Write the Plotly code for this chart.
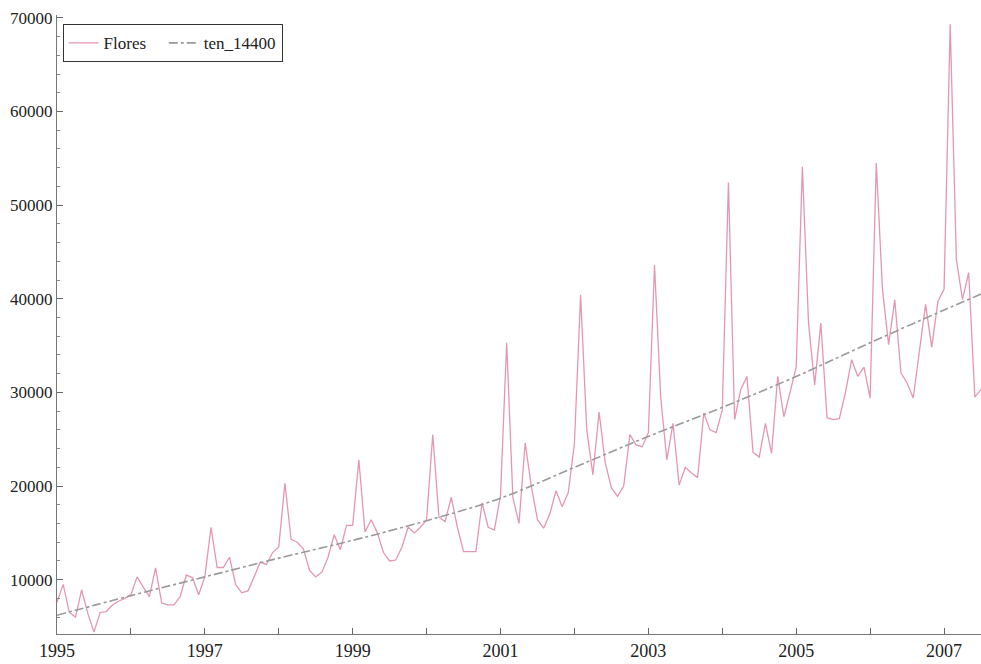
import plotly.graph_objects as go

# Monthly series "Flores", Jan 1995 .. Jul 2007
flores_1995 = [7600, 9500, 6500, 6000, 8900, 6400, 4400, 6500, 6600, 7300, 7700, 8000]
flores_1996 = [8400, 10300, 9200, 8200, 11250, 7500, 7300, 7300, 8200, 10500, 10200, 8400]
flores_1997 = [10300, 15600, 11300, 11300, 12400, 9500, 8600, 8800, 10300, 11900, 11600, 12900]
flores_1998 = [13500, 20300, 14300, 14000, 13300, 11000, 10300, 10800, 12400, 14800, 13200, 15800]
flores_1999 = [15800, 22800, 15100, 16400, 15000, 12900, 12000, 12100, 13500, 15600, 15000, 15600]
flores_2000 = [16400, 25500, 16700, 16200, 18800, 15600, 13000, 13000, 13000, 18200, 15600, 15300]
flores_2001 = [19000, 35300, 18800, 16000, 24600, 20000, 16400, 15500, 17000, 19500, 17800, 19300]
flores_2002 = [24600, 40400, 26000, 21200, 27900, 22500, 19800, 18900, 20000, 25500, 24400, 24200]
flores_2003 = [25700, 43600, 29500, 22800, 26700, 20100, 22000, 21400, 20900, 27800, 26000, 25700]
flores_2004 = [28100, 52400, 27100, 30300, 31700, 23600, 23100, 26700, 23500, 31700, 27400, 30000]
flores_2005 = [32700, 54100, 37400, 30800, 37400, 27300, 27100, 27200, 30000, 33500, 31700, 32700]
flores_2006 = [29400, 54500, 41000, 35100, 39900, 32100, 31000, 29400, 34200, 39400, 34800, 39700]
flores_2007 = [41000, 69300, 44200, 39900, 42800, 29500, 30300]

flores_years = [1995, 1996, 1997, 1998, 1999, 2000, 2001, 2002, 2003, 2004, 2005, 2006, 2007]
flores_blocks = [flores_1995, flores_1996, flores_1997, flores_1998, flores_1999, flores_2000,
                 flores_2001, flores_2002, flores_2003, flores_2004, flores_2005, flores_2006,
                 flores_2007]

# Trend "ten_14400" read at January of each year (and end of series)
trend_time = [1995.0, 1996.0, 1997.0, 1998.0, 1999.0, 2000.0, 2001.0, 2002.0,
              2003.0, 2004.0, 2005.0, 2006.0, 2007.0, 2007.5]
trend_vals = [6200, 8300, 10300, 12300, 14200, 16300, 18700, 22000,
              25300, 28400, 31700, 35300, 38800, 40500]

x_tick_vals = [1995, 1997, 1999, 2001, 2003, 2005, 2007]
x_tick_text = ["1995", "1997", "1999", "2001", "2003", "2005", "2007"]

flores_time = []
flores_vals = []
for yr, block in zip(flores_years, flores_blocks):
    for m, v in enumerate(block):
        flores_time.append(yr + m / 12.0)
        flores_vals.append(v)

font_family = "Liberation Serif"

fig = go.Figure()
fig.add_trace(go.Scatter(
    x=flores_time, y=flores_vals, mode="lines", name="Flores   ",
    line=dict(color="#e596b2", width=1.3),
))
fig.add_trace(go.Scatter(
    x=trend_time, y=trend_vals, mode="lines", name="ten_14400",
    line=dict(color="#9a9a9a", width=1.6, dash="dashdot", shape="spline"),
))

fig.update_layout(
    width=981, height=664,
    margin=dict(l=57, r=0, t=15, b=30, autoexpand=False),
    paper_bgcolor="white", plot_bgcolor="white",
    font=dict(family=font_family, size=17, color="#222222"),
    showlegend=True,
    legend=dict(
        x=0.006, y=0.985, xanchor="left", yanchor="top",
        orientation="h",
        bgcolor="white", bordercolor="#333333", borderwidth=1,
        font=dict(family=font_family, size=17, color="#222222"),
        itemwidth=30,
    ),
)
fig.update_xaxes(
    range=[1995.0, 2007.5],
    tickvals=x_tick_vals, ticktext=x_tick_text,
    ticks="inside", ticklen=6, tickcolor="#666666",
    minor=dict(dtick=1, tick0=1995, ticks="inside", ticklen=6, tickcolor="#666666"),
    showline=True, linecolor="#777777", linewidth=1,
    showgrid=False, zeroline=False,
    tickfont=dict(family=font_family, size=18, color="#222222"),
)
fig.update_yaxes(
    range=[4200, 70300],
    tick0=0, dtick=10000,
    tickformat="d",
    ticks="inside", ticklen=6, tickcolor="#666666",
    minor=dict(dtick=2000, tick0=0, ticks="inside", ticklen=3, tickcolor="#888888"),
    showline=True, linecolor="#777777", linewidth=1,
    showgrid=False, zeroline=False,
    tickfont=dict(family=font_family, size=17, color="#222222"),
)

fig.write_html(
    "out.html",
    config={"displayModeBar": False},
    post_script="document.body.style.margin='0';document.body.style.overflow='hidden';",
)
